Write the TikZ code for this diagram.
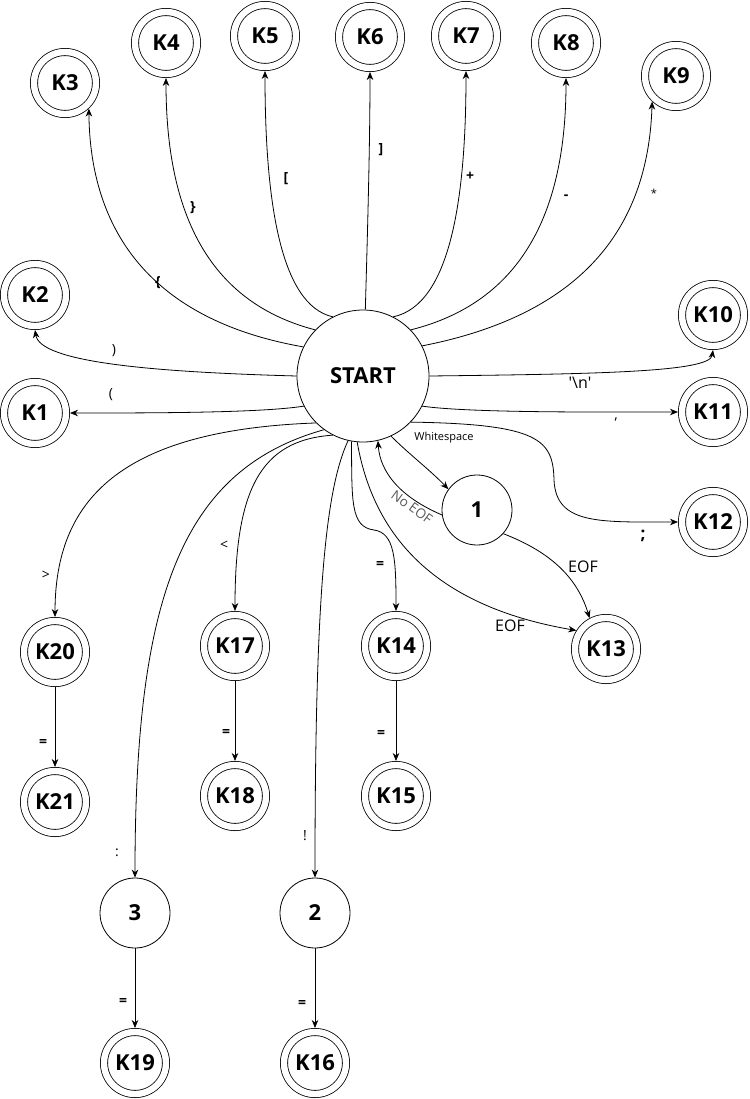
\documentclass[tikz,border=0pt]{standalone}
\usepackage{fontspec}
\setmainfont{Open Sans}
\newfontfamily\qfont{Open Sans}[Ligatures=TeXOff]
\usetikzlibrary{arrows.meta}
\tikzset{
  st/.style={circle, draw, line width=0.8pt, minimum size=70pt, inner sep=0pt, outer sep=0.4pt, font=\bfseries\fontsize{22}{22}\selectfont},
  acc/.style={circle, draw, line width=0.8pt, double, double distance=6.4pt, minimum size=62pt, inner sep=0pt, outer sep=4pt, font=\bfseries\fontsize{22}{22}\selectfont},
  arr/.style={-{Stealth[length=8pt,width=6.5pt,inset=2.5pt]}, line width=0.8pt},
  lb/.style={inner sep=0pt, font=\bfseries\fontsize{14}{14}\selectfont},
  lr/.style={inner sep=0pt, font=\fontsize{14}{14}\selectfont},
  le/.style={inner sep=0pt, font=\fontsize{16}{16}\selectfont},
}
\begin{document}
\begin{tikzpicture}[x=1pt,y=-1pt]
\useasboundingbox (0,0) rectangle (749,1099);
% nodes
\node[st, minimum size=132pt] (S) at (363,376) {START};
\node[acc] (K1) at (35,413) {K1};
\node[acc] (K2) at (35,295) {K2};
\node[acc] (K3) at (65,83) {K3};
\node[acc] (K4) at (166,43) {K4};
\node[acc] (K5) at (265,36) {K5};
\node[acc] (K6) at (370,37) {K6};
\node[acc] (K7) at (466,36) {K7};
\node[acc] (K8) at (566,43) {K8};
\node[acc] (K9) at (676,76) {K9};
\node[acc] (K10) at (713,315) {K10};
\node[acc] (K11) at (713,412) {K11};
\node[acc] (K12) at (713,522) {K12};
\node[acc] (K13) at (606,649) {K13};
\node[acc] (K14) at (396,646) {K14};
\node[acc] (K15) at (396,796) {K15};
\node[acc] (K17) at (235,646) {K17};
\node[acc] (K18) at (235,796) {K18};
\node[acc] (K20) at (55,652) {K20};
\node[acc] (K21) at (55,802) {K21};
\node[st] (N3) at (135,913) {3};
\node[acc] (K19) at (135,1063) {K19};
\node[st] (N2) at (315,913) {2};
\node[acc] (K16) at (315,1063) {K16};
\node[st] (N1) at (477,510) {1};
% top fan
\draw[arr] (S.154) .. controls (150,320) and (90,230) .. (K3.313);
\draw[arr] (S.136) .. controls (200,300) and (166,200) .. (K4.south);
\draw[arr] (S.117) .. controls (280,305) and (265,200) .. (K5.south);
\draw[arr] (S.88) .. controls (367,250) and (370,150) .. (K6.south);
\draw[arr] (S.63) .. controls (450,305) and (466,200) .. (K7.south);
\draw[arr] (S.44) .. controls (530,300) and (566,200) .. (K8.south);
\draw[arr] (S.27) .. controls (580,315) and (648,230) .. (K9.227);
% sides
\draw[arr] (S.180) .. controls (150,372) and (40,362) .. (K2.south);
\draw[arr] (S.207) .. controls (260,413) and (150,413) .. (K1.east);
\draw[arr] (S.0) .. controls (600,374) and (710,372) .. (K10.south);
\draw[arr] (S.333) .. controls (470,413) and (600,412) .. (K11.west);
\draw[arr] (S.316) .. controls (540,424) and (553,440) .. (554,480) .. controls (556,525) and (600,522) .. (K12.west);
% bottom
\draw[arr] (S.295) .. controls (410,455) and (430,470) .. (N1.144);
\draw[arr] (N1.188) .. controls (400,497) and (380,472) .. (S.283);
\draw[arr] (N1.318) .. controls (540,548) and (575,570) .. (K13.118);
\draw[arr] (S.265) .. controls (375,545) and (445,608) .. (K13.148);
\draw[arr] (S.260) .. controls (352,500) and (350,527) .. (374,530) .. controls (395,533) and (396,560) .. (K14.north);
\draw[arr] (S.257) .. controls (325,490) and (315,600) .. (N2.north);
\draw[arr] (S.243) .. controls (260,440) and (235,490) .. (K17.north);
\draw[arr] (S.234) .. controls (180,470) and (135,600) .. (N3.north);
\draw[arr] (S.225) .. controls (120,430) and (55,500) .. (K20.north);
% vertical
\draw[arr] (K20) -- (K21);
\draw[arr] (K17) -- (K18);
\draw[arr] (K14) -- (K15);
\draw[arr] (N3) -- (K19);
\draw[arr] (N2) -- (K16);
% labels
\node[lb] (l3) at (158,283) {\{};
\node[lb] (l4) at (193,208) {\}};
\node[lb] (l5) at (286,179) {[};
\node[lb] (l6) at (381,150) {]};
\node[lb] (l7) at (470,176) {+};
\node[lb] (l8) at (566,197) {-};
\node[inner sep=0pt, font=\fontsize{11}{11}\selectfont] (l9) at (654,193) {*};
\node[lr] (l2) at (114,351) {)};
\node[lr] (l1) at (111,395) {(};
\node[le] (l10) at (580,383) {\qfont '\textbackslash n'};
\node[lr] (l11) at (616,420) {,};
\node[lb, font=\bfseries\fontsize{17}{17}\selectfont] (l12) at (643,536) {;};
\node[inner sep=0pt, font=\fontsize{11}{11}\selectfont] (lws) at (444,438) {Whitespace};
\node[inner sep=0pt, font=\fontsize{13.5}{13.5}\selectfont, text=black!65, rotate=-36] (lne) at (412,507) {No EOF};
\node[le] (le1) at (583,567) {EOF};
\node[le] (le2) at (510,626) {EOF};
\node[lb] (l14) at (380,565) {=};
\node[lr] (l17) at (224,545) {<};
\node[lr] (l20) at (46,575) {>};
\node[lr] (l3b) at (117,853) {:};
\node[lr] (l2b) at (305,836) {!};
\node[lb] (l21) at (43,743) {=};
\node[lb] (l18) at (226,733) {=};
\node[lb] (l15) at (381,734) {=};
\node[lb] (l19) at (123,1002) {=};
\node[lb] (l16) at (302,1004) {=};
\end{tikzpicture}
\end{document}
